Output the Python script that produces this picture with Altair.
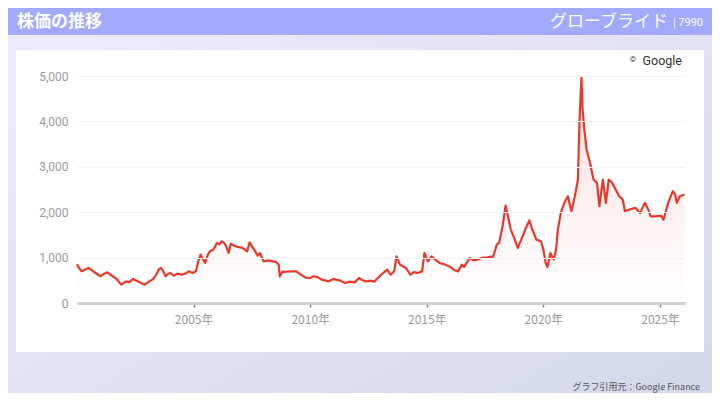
import altair as alt
import pandas as pd

# ---- data (decimal year, price in JPY) ----
years = [
    2000.00, 2000.08, 2000.20, 2000.35, 2000.50, 2000.65, 2000.80, 2001.00, 2001.15, 2001.30,
    2001.50, 2001.70, 2001.90, 2002.10, 2002.25, 2002.40, 2002.60, 2002.75, 2002.90, 2003.10,
    2003.25, 2003.40, 2003.50, 2003.60, 2003.70, 2003.80, 2003.90, 2004.00, 2004.15, 2004.30,
    2004.50, 2004.65, 2004.80, 2004.95, 2005.10, 2005.20, 2005.30, 2005.40, 2005.50, 2005.60,
    2005.70, 2005.85, 2006.00, 2006.10, 2006.20, 2006.30, 2006.40, 2006.50, 2006.60, 2006.75,
    2006.90, 2007.10, 2007.30, 2007.40, 2007.50, 2007.60, 2007.75, 2007.85, 2008.00, 2008.20,
    2008.40, 2008.55, 2008.65, 2008.70, 2008.80, 2009.00, 2009.20, 2009.40, 2009.60, 2009.80,
    2010.00, 2010.15, 2010.30, 2010.50, 2010.80, 2011.00, 2011.15, 2011.30, 2011.50, 2011.70,
    2011.90, 2012.10, 2012.25, 2012.40, 2012.60, 2012.75, 2012.90, 2013.10, 2013.30, 2013.45,
    2013.60, 2013.70, 2013.85, 2014.10, 2014.30, 2014.45, 2014.60, 2014.80, 2014.90, 2015.05,
    2015.20, 2015.35, 2015.55, 2015.80, 2016.00, 2016.20, 2016.35, 2016.50, 2016.60, 2016.85,
    2017.00, 2017.15, 2017.35, 2017.60, 2017.85, 2018.00, 2018.10, 2018.25, 2018.38, 2018.48,
    2018.60, 2018.75, 2018.90, 2019.05, 2019.25, 2019.40, 2019.50, 2019.70, 2019.90, 2020.00,
    2020.10, 2020.18, 2020.30, 2020.45, 2020.55, 2020.62, 2020.75, 2020.90, 2021.05, 2021.20,
    2021.35, 2021.48, 2021.55, 2021.63, 2021.68, 2021.75, 2021.85, 2022.00, 2022.15, 2022.30,
    2022.40, 2022.55, 2022.68, 2022.80, 2022.95, 2023.10, 2023.25, 2023.40, 2023.50, 2023.70,
    2023.95, 2024.15, 2024.35, 2024.50, 2024.60, 2024.80, 2025.05, 2025.15, 2025.35, 2025.55,
    2025.65, 2025.72, 2025.85, 2026.05,
]
prices = [
    850, 780, 700, 740, 772, 720, 660, 590, 640, 675,
    600, 530, 404, 477, 460, 530, 477, 440, 404, 477,
    520, 624, 735, 772, 700, 587, 640, 662, 600, 646,
    624, 650, 697, 660, 700, 918, 1066, 960, 882, 1050,
    1139, 1176, 1323, 1290, 1359, 1330, 1249, 1103, 1308, 1260,
    1235, 1213, 1139, 1337, 1250, 1176, 1043, 1100, 918, 940,
    918, 900, 845, 587, 684, 690, 697, 697, 624, 560,
    551, 590, 573, 514, 477, 530, 510, 492, 441, 470,
    455, 551, 500, 477, 492, 470, 551, 646, 735, 624,
    700, 1028, 845, 772, 624, 680, 662, 697, 1103, 918,
    1028, 960, 882, 845, 794, 720, 697, 845, 794, 992,
    940, 955, 992, 1006, 1028, 1286, 1323, 1690, 2147, 1910,
    1617, 1434, 1213, 1396, 1654, 1822, 1654, 1396, 1359, 1176,
    882, 794, 1100, 955, 1200, 1617, 1985, 2206, 2352, 2020,
    2352, 2720, 4043, 4963, 4264, 3860, 3382, 3088, 2720, 2647,
    2131, 2720, 2206, 2720, 2647, 2500, 2352, 2279, 2020, 2058,
    2096, 1985, 2206, 2058, 1910, 1910, 1925, 1837, 2206, 2463,
    2389, 2206, 2352, 2389,
]
y_ticks = [0, 1000, 2000, 3000, 4000, 5000]
x_tick_years = [2005, 2010, 2015, 2020, 2025]

title_text = "株価の推移"
company_text = "グローブライド"
code_text = "7990"
source_text = "グラフ引用元：Google Finance"


def to_date(y):
    yi = int(y)
    return (pd.Timestamp(year=yi, month=1, day=1)
            + pd.Timedelta(days=(y - yi) * 365.25)).strftime("%Y-%m-%d")


df = pd.DataFrame({"date": [to_date(y) for y in years], "price": prices})
one = pd.DataFrame({"a": [0]})

JP = "Noto Sans CJK JP"
RED = "#e8392b"

x_enc = alt.X(
    "date:T",
    scale=alt.Scale(domain=["2000-01-01", "2026-01-27"]),
    axis=alt.Axis(
        values=[alt.DateTime(year=y, month=1, date=1) for y in x_tick_years],
        format="%Y年", title=None, grid=False,
        domainColor="#cfcfcf", domainWidth=3,
        tickColor="#808080", tickSize=4, tickWidth=1.5,
        labelColor="#9a9a9a", labelFontSize=12, labelFont=JP, labelPadding=7,
        zindex=1,
    ),
)
y_enc = alt.Y(
    "price:Q",
    scale=alt.Scale(domain=[0, 5000], nice=False),
    axis=alt.Axis(
        values=y_ticks, format=",.0f", title=None,
        domain=False, ticks=False,
        gridColor="#f3f3f3", gridWidth=1,
        labelColor="#9a9a9a", labelFontSize=12, labelFont="Roboto", labelPadding=9,
        zindex=1,
    ),
)

bg = alt.Chart(one).mark_rect(
    fill=alt.Gradient(
        gradient="linear", x1=0, y1=0, x2=1, y2=1,
        stops=[alt.GradientStop(color="#efebfd", offset=0),
               alt.GradientStop(color="#d3d9ea", offset=1)],
    )
).encode(x=alt.value(-69), x2=alt.value(635), y=alt.value(-68), y2=alt.value(317))

header = alt.Chart(one).mark_rect(fill="#a2aafe").encode(
    x=alt.value(-69), x2=alt.value(635), y=alt.value(-68), y2=alt.value(-41))

panel = alt.Chart(one).mark_rect(fill="white").encode(
    x=alt.value(-61), x2=alt.value(627), y=alt.value(-26), y2=alt.value(276))

area = alt.Chart(df).mark_area(
    line=False,
    fill=alt.Gradient(
        gradient="linear", x1=0, y1=0, x2=0, y2=1,
        stops=[alt.GradientStop(color="rgba(232,57,43,0.16)", offset=0),
               alt.GradientStop(color="rgba(232,57,43,0.0)", offset=1)],
    ),
).encode(x=x_enc, y=y_enc)

line = alt.Chart(df).mark_line(color=RED, strokeWidth=2.2, strokeJoin="round").encode(
    x="date:T", y="price:Q")

t_title = alt.Chart(one).mark_text(
    text=title_text, font=JP, fontSize=17, fontWeight="bold", color="white",
    align="left", baseline="middle").encode(x=alt.value(-60), y=alt.value(-54))
t_company = alt.Chart(one).mark_text(
    text=company_text, font=JP, fontSize=17, color="white",
    align="right", baseline="middle").encode(x=alt.value(591), y=alt.value(-54))
t_bar = alt.Chart(one).mark_text(
    text="|", font="Roboto", fontSize=12, color="white", opacity=0.8,
    align="center", baseline="middle").encode(x=alt.value(597.5), y=alt.value(-53))
t_code = alt.Chart(one).mark_text(
    text=code_text, font="Roboto", fontSize=11, color="white",
    align="right", baseline="middle").encode(x=alt.value(626), y=alt.value(-53))
t_copy = alt.Chart(one).mark_text(
    text="©", font="Roboto", fontSize=8, color="#333333",
    align="center", baseline="middle").encode(x=alt.value(556), y=alt.value(-16))
t_google = alt.Chart(one).mark_text(
    text="Google", font="Roboto", fontSize=12.5, color="#333333",
    align="right", baseline="middle").encode(x=alt.value(605), y=alt.value(-15))
t_source = alt.Chart(one).mark_text(
    text=source_text, font=JP, fontSize=9, color="#555555",
    align="right", baseline="middle").encode(x=alt.value(623), y=alt.value(311))

chart = alt.layer(
    bg, header, panel, area, line,
    t_title, t_company, t_bar, t_code, t_copy, t_google, t_source,
).properties(
    width=608, height=227,
    padding={"left": 69, "top": 68, "right": 27, "bottom": 90},
    autosize=alt.AutoSizeParams(type="none"),
    background="white",
).configure_view(stroke=None)

chart.save("out.html", embed_options={"renderer": "svg", "actions": False})
